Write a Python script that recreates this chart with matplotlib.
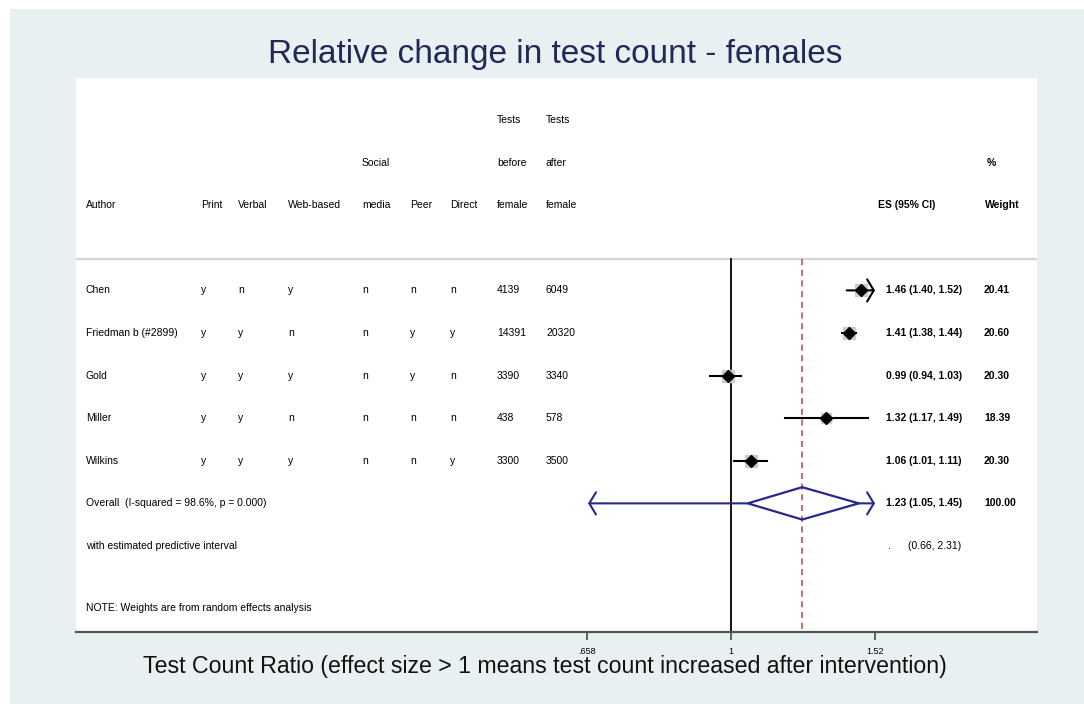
import matplotlib
matplotlib.use("Agg")
import matplotlib.pyplot as plt
import matplotlib.transforms as mtransforms
from matplotlib.patches import Rectangle, Polygon
from matplotlib.ticker import NullLocator, FixedLocator, FixedFormatter

plt.rcParams['font.family'] = ['Liberation Sans', 'DejaVu Sans']

# study data
authors = ["Chen", "Friedman b (#2899)", "Gold", "Miller", "Wilkins"]
print_col = ["y", "y", "y", "y", "y"]
verbal = ["n", "y", "y", "y", "y"]
web_based = ["y", "n", "y", "n", "y"]
social_media = ["n", "n", "n", "n", "n"]
peer = ["n", "y", "y", "n", "n"]
direct = ["n", "y", "n", "n", "y"]
tests_before = [4139, 14391, 3390, 438, 3300]
tests_after = [6049, 20320, 3340, 578, 3500]
es = [1.46, 1.41, 0.99, 1.32, 1.06]
ci_lo = [1.40, 1.38, 0.94, 1.17, 1.01]
ci_hi = [1.52, 1.44, 1.03, 1.49, 1.11]
weights = [20.41, 20.60, 20.30, 18.39, 20.30]

overall_es, overall_lo, overall_hi = 1.23, 1.05, 1.45
pred_lo, pred_hi = 0.66, 2.31
i_squared, p_value = 98.6, 0.000

tick_vals = [0.658, 1, 1.52]
tick_labels = [".658", "1", "1.52"]

W, H = 1084, 704
fig = plt.figure(figsize=(W / 100, H / 100), dpi=100)
fig.patch.set_facecolor("white")
fig.patches.append(Rectangle((10 / W, 0), (W - 10) / W, (H - 9) / H,
                             transform=fig.transFigure, facecolor="#e8f0f2",
                             edgecolor="none", zorder=-10))

ax = fig.add_axes([76 / W, (H - 632) / H, 961 / W, 554 / H])
ax.set_zorder(5)
ax.set_facecolor("white")
ax.set_xscale("log")
xmin, xmax = tick_vals[0], tick_vals[-1]
# 1 sits at pixel 731, 344 px per log unit
ax.set_xlim(0.1489, 2.4346)
ax.set_ylim(12.02, -0.986)

for s in ["top", "left", "right"]:
    ax.spines[s].set_visible(False)
ax.spines["bottom"].set_color("#555555")
ax.spines["bottom"].set_linewidth(1.6)
ax.yaxis.set_visible(False)
ax.xaxis.set_major_locator(FixedLocator(tick_vals))
ax.xaxis.set_major_formatter(FixedFormatter(tick_labels))
ax.xaxis.set_minor_locator(NullLocator())
ax.tick_params(axis="x", length=6, width=1.3, color="#555555", labelsize=6.5, pad=5)

font = 7.5
top_line = 3.26
ax.axhline(top_line, color="#d4d4d4", lw=1.6, zorder=1)
ax.plot([1, 1], [top_line, 12.02], color="black", lw=1.3, zorder=2)
ax.plot([overall_es, overall_es], [top_line, 12.02], color="#b04848", lw=1.1,
        dashes=(4, 3), zorder=2)

# column positions (axes fraction)
def fx(px):
    return (px - 76) / 961

cols = [86, 201, 238, 288, 362, 410, 450, 497, 546]
tr = mtransforms.blended_transform_factory(ax.transAxes, ax.transData)

def txt(px, row, s, **kw):
    ax.text(fx(px), row, s, transform=tr, fontsize=font, va="center", ha="left", **kw)

# headers
txt(497, 0, "Tests")
txt(546, 0, "Tests")
txt(362, 1, "Social")
txt(497, 1, "before")
txt(546, 1, "after")
txt(987, 1, "%", fontweight="bold")
headers = ["Author", "Print", "Verbal", "Web-based", "media", "Peer", "Direct",
           "female", "female"]
for px, h in zip(cols, headers):
    txt(px, 2, h)
txt(878, 2, "ES (95% CI)", fontweight="bold")
txt(985, 2, "Weight", fontweight="bold")

arrow_kw = dict(arrowstyle="->,head_length=0.3,head_width=0.5", lw=1.5,
                shrinkA=0, shrinkB=0, mutation_scale=16)

for i in range(len(authors)):
    row = 4 + i
    vals = [authors[i], print_col[i], verbal[i], web_based[i], social_media[i],
            peer[i], direct[i], str(tests_before[i]), str(tests_after[i])]
    for px, v in zip(cols, vals):
        txt(px, row, v)
    txt(886, row, "%.2f (%.2f, %.2f)" % (es[i], ci_lo[i], ci_hi[i]), fontweight="bold")
    txt(984, row, "%.2f" % weights[i], fontweight="bold")

    lo = max(ci_lo[i], xmin)
    hi = min(ci_hi[i], xmax)
    if ci_hi[i] >= xmax:
        ax.annotate("", xy=(hi, row), xytext=(lo, row),
                    arrowprops=dict(color="black", **arrow_kw), zorder=4)
    else:
        ax.plot([lo, hi], [row, row], color="black", lw=1.5, zorder=4)
    ax.plot(es[i], row, marker="s", markersize=8 * (weights[i] / 20.6) ** 0.5,
            color="#cccccc", zorder=3, linestyle="none")
    ax.plot(es[i], row, marker="D", markersize=6, color="black", zorder=5,
            linestyle="none")

# overall
orow = 9
txt(86, orow, "Overall  (I-squared = %.1f%%, p = %.3f)" % (i_squared, p_value))
txt(886, orow, "%.2f (%.2f, %.2f)" % (overall_es, overall_lo, overall_hi),
    fontweight="bold")
txt(984, orow, "100.00", fontweight="bold")
navy = "#27288a"
half = 0.38
ax.add_patch(Polygon([(overall_lo, orow), (overall_es, orow - half),
                      (overall_hi, orow), (overall_es, orow + half)],
                     closed=True, fill=False, edgecolor=navy, lw=1.6, zorder=5))
ax.annotate("", xy=(max(pred_lo, xmin), orow), xytext=(overall_lo, orow),
            arrowprops=dict(color=navy, **arrow_kw), zorder=5)
ax.annotate("", xy=(min(pred_hi, xmax), orow), xytext=(overall_hi, orow),
            arrowprops=dict(color=navy, **arrow_kw), zorder=5)

txt(86, 10, "with estimated predictive interval")
txt(888, 10, ".")
txt(908, 10, "(%.2f, %.2f)" % (pred_lo, pred_hi))
txt(86, 11.46, "NOTE: Weights are from random effects analysis")

fig.text(555 / W, 1 - 55 / H, "Relative change in test count - females",
         fontsize=24, color="#1f2b56", ha="center", va="center")
fig.text(545 / W, 1 - 667 / H,
         "Test Count Ratio (effect size > 1 means test count increased after intervention)",
         fontsize=16.7, color="#111111", ha="center", va="center")

fig.savefig("out.png", dpi=100)
